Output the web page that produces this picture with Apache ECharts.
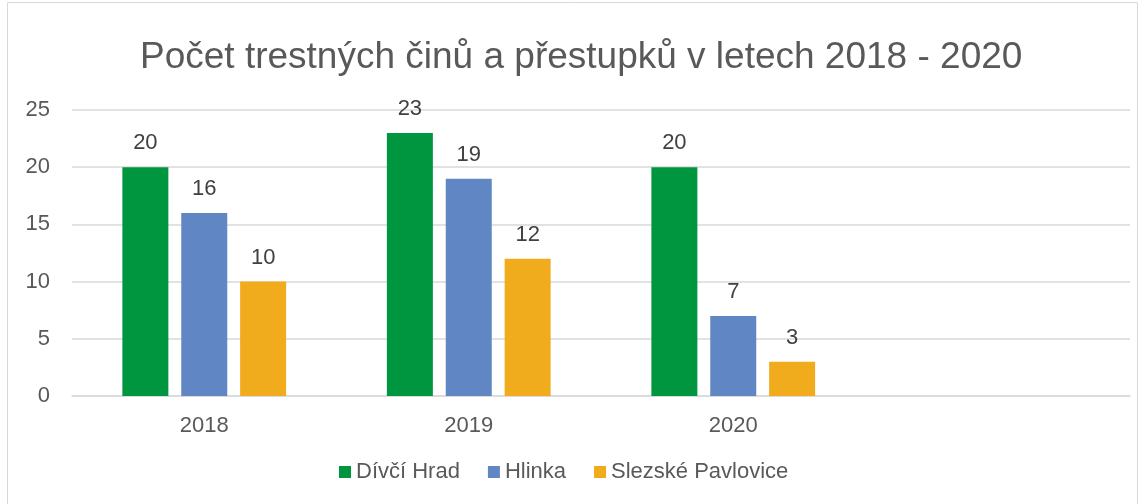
<!DOCTYPE html>
<html>
<head>
<meta charset="utf-8">
<script src="https://cdn.jsdelivr.net/npm/echarts@6/dist/echarts.min.js"></script>
<style>
  html, body { margin: 0; padding: 0; background: #fff; }
  #chart { width: 1146px; height: 504px; }
</style>
</head>
<body>
<div id="chart"></div>
<script>
const categories = ['2018', '2019', '2020', '']
const divciHrad = [20, 23, 20, null]
const hlinka = [16, 19, 7, null]
const slezskePavlovice = [10, 12, 3, null]
const yTicks = [0, 5, 10, 15, 20, 25]

const font = 'Liberation Sans, Arial, sans-serif'

const barSeries = (name, data, color) => ({
  name,
  type: 'bar',
  data,
  barWidth: 46,
  barGap: '28%',
  itemStyle: {color},
  label: {
    show: true,
    position: 'top',
    distance: 13,
    color: '#404040',
    fontSize: 22,
    fontFamily: font
  }
})

const chart = echarts.init(document.getElementById('chart'))
chart.setOption({
  animation: false,
  graphic: [{
    type: 'rect',
    shape: {x: 7.5, y: 2.5, width: 1130, height: 520},
    style: {fill: 'none', stroke: '#d9d9d9', lineWidth: 1}
  }],
  title: {
    text: 'Počet trestných činů a přestupků v letech 2018 - 2020',
    left: 135,
    top: 34,
    textStyle: {
      color: '#595959',
      fontSize: 37,
      fontWeight: 'normal',
      fontFamily: font
    }
  },
  legend: {
    bottom: 16,
    left: 334,
    icon: 'rect',
    itemWidth: 12,
    itemHeight: 12,
    itemGap: 28,
    itemStyle: {borderWidth: 0},
    textStyle: {color: '#595959', fontSize: 22, fontFamily: font},
    data: ['Dívčí Hrad', 'Hlinka', 'Slezské Pavlovice']
  },
  grid: {left: 72, right: 16, top: 110, bottom: 108},
  xAxis: {
    type: 'category',
    data: categories,
    axisLine: {lineStyle: {color: '#d9d9d9', width: 1.5}},
    axisTick: {show: false},
    axisLabel: {color: '#595959', fontSize: 22, fontFamily: font, margin: 19}
  },
  yAxis: {
    type: 'value',
    min: yTicks[0],
    max: yTicks[yTicks.length - 1],
    interval: 5,
    axisLine: {show: false},
    axisTick: {show: false},
    splitLine: {lineStyle: {color: '#d9d9d9', width: 1.5}},
    axisLabel: {color: '#595959', fontSize: 22, fontFamily: font, margin: 22}
  },
  series: [
    barSeries('Dívčí Hrad', divciHrad, '#00963f'),
    barSeries('Hlinka', hlinka, '#6087c3'),
    barSeries('Slezské Pavlovice', slezskePavlovice, '#f0ac1d')
  ]
})
</script>
</body>
</html>
